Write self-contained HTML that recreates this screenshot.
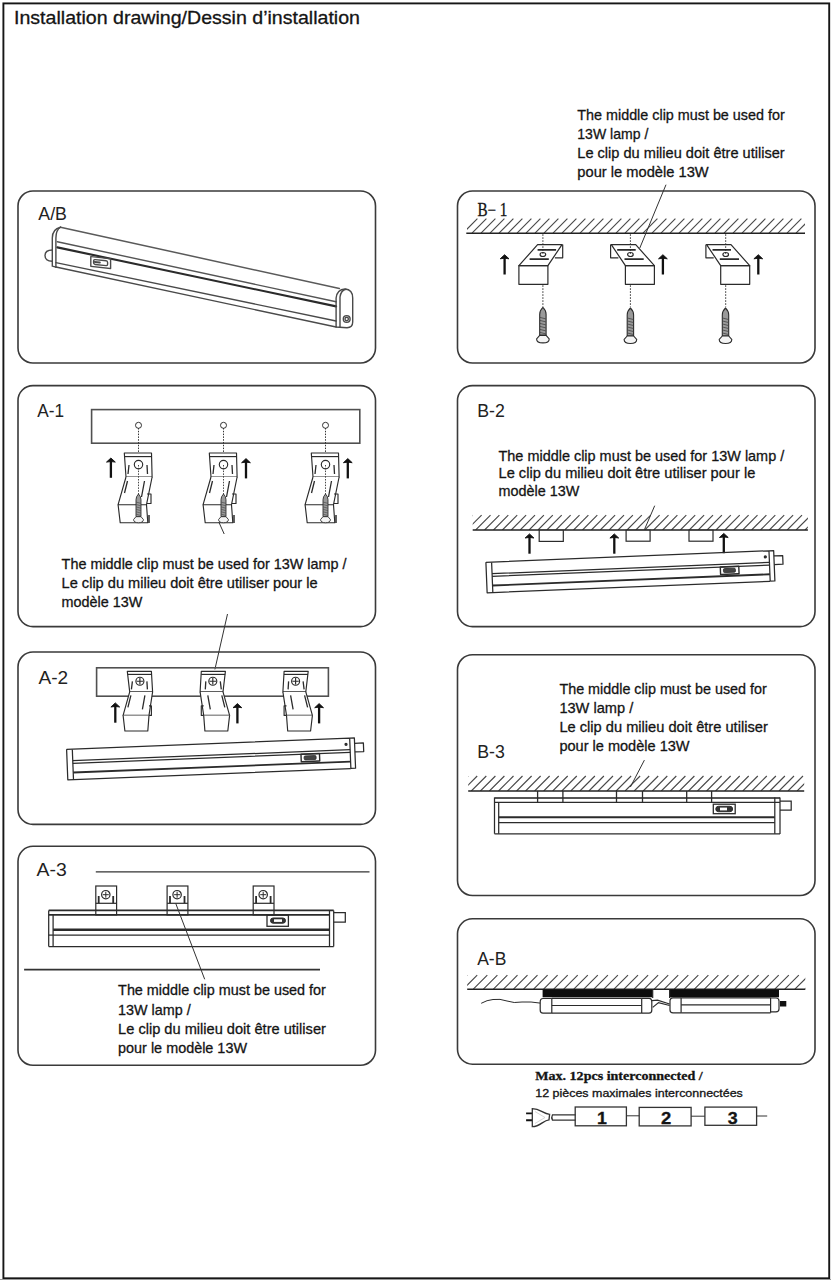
<!DOCTYPE html>
<html><head><meta charset="utf-8">
<style>
html,body{margin:0;padding:0;background:#fff;overflow:hidden;width:831px;height:1280px;}
svg{display:block;}
text{font-family:"Liberation Sans",sans-serif;fill:#141414;stroke:#141414;stroke-width:0.3;}
.n{font-size:15px;}
.pn{fill:none;stroke:#3a3a3a;stroke-width:1.6;}
.ln{fill:none;stroke:#2a2a2a;stroke-width:1.2;}
.lbl{font-size:18.5px;fill:#222;stroke-width:0;}
</style></head><body>
<svg width="831" height="1280" viewBox="0 0 831 1280">

<defs>
<g id="screw">
<path d="M0,0 Q3.2,3 3.2,7 L3.2,28 L-3.2,28 L-3.2,7 Q-3.2,3 0,0 Z" fill="#9a9a9a" stroke="#2b2b2b" stroke-width="1.1"/>
<path d="M-3,10 L3,11.5 M-3,13 L3,14.5 M-3,16 L3,17.5 M-3,19 L3,20.5 M-3,22 L3,23.5 M-3,25 L3,26.5" stroke="#444" stroke-width="0.8"/>
<path d="M-3.2,28 L-6.3,31.5 Q-6.3,35.5 0,35.5 Q6.3,35.5 6.3,31.5 L3.2,28 Z" fill="#f4f4f4" stroke="#2b2b2b" stroke-width="1.1"/>
</g>
<g id="arrowup">
<path d="M0,3 L0,20" stroke="#111" stroke-width="2.3" fill="none"/>
<path d="M-4.4,4.3 L0,0.2 L4.4,4.3 Q0,3.2 -4.4,4.3 Z" fill="#111" stroke="#111" stroke-width="0.9" stroke-linejoin="round"/>
</g>
<g id="clipb1" fill="none" stroke="#2b2b2b" stroke-width="1.2" stroke-linejoin="round">
<path d="M-5,32.4 L24,32.4 L24,51 L-5,51 Z" fill="#fff"/>
<path d="M-19.1,11.3 L5.3,11.3 L24,32.4 L-5,32.4 Z" fill="#fff"/>
<path d="M-19.8,11.3 L-19.8,24.5 L-12,24.5"/>
<path d="M-13.2,16.6 L5.3,16.6 M-5.9,25.8 L13.3,25.8" stroke-width="1.6"/>
<ellipse cx="0" cy="21.2" rx="2.8" ry="2"/>
<path d="M0,1 L0,21 M0,52 L0,73.5" stroke-dasharray="1.5 1.5" stroke-width="1"/>
</g>
<clipPath id="hatchclip1"><rect x="467" y="215" width="338" height="20"/></clipPath>

<g id="clipa1" fill="none" stroke="#2b2b2b" stroke-width="1.15" stroke-linejoin="round">
<path d="M-14.2,0 L13,0 L13.6,24 L-12.5,24 Z" fill="#fff"/>
<path d="M-13.9,3.6 L13.2,3.6"/>
<circle cx="0" cy="11.6" r="4.2"/>
<path d="M-12.5,24 L-20.4,51.7 L8,51.7 L13.6,24" fill="#fff"/>
<path d="M-20.4,51.7 L-18.3,69.7 L9.3,69.7 L8,51.7"/>
<path d="M8.5,41 L12.5,41 L12.5,50.5 L8.5,50.5"/>
<path d="M-9.5,12 L-10.5,21 M8.5,12 L9,21 M-11,28 L-14,40 M6,28 L3,44" stroke-width="1.3"/>
<path d="M10.5,62 L10.5,70" stroke-width="1.5"/>
</g>
<g id="a1set">
<circle cx="0" cy="-27.7" r="3" fill="none" stroke="#333" stroke-width="1"/>
<path d="M0,-25 L0,41" stroke="#333" stroke-width="1" stroke-dasharray="1.5 1.3" fill="none"/>
<use href="#clipa1"/>
<path d="M0,12 L0,41" stroke="#333" stroke-width="0.9" stroke-dasharray="1.5 1.3" fill="none"/>
<use href="#screw" transform="translate(0,41) scale(0.78,0.81)"/>
</g>

<g id="clipa2" fill="none" stroke="#2b2b2b" stroke-width="1.15" stroke-linejoin="round">
<path d="M-12.6,0 L11.5,0 L12.7,20.5 L-10.2,20.5 Z" fill="#fff"/>
<path d="M-12.4,3 L11.6,3"/>
<circle cx="0" cy="9.8" r="4"/>
<path d="M-3.2,9.8 L3.2,9.8 M0,6.6 L0,13"/>
<path d="M-10.2,20.5 L-16.8,44 L9.1,44 L12.7,20.5" fill="#fff"/>
<path d="M-16.8,44 L-15,59.6 L7.9,59.6 L9.1,44" fill="#fff"/>
<path d="M9.1,34.5 L11.5,34.5 L11.5,44 L9.1,44"/>
<path d="M-7.5,10 L-8.5,18 M7,10 L7.5,18 M-9,24 L-12,36 M5,24 L2.5,38" stroke-width="1.3"/>
</g>
<g id="lampA" fill="none" stroke="#2b2b2b" stroke-width="1.25" stroke-linejoin="round">
<path d="M0,0 L283.3,0 L288,0 L288,30.3 L283.3,30.3 M283.3,0 L283.3,30.3"/>
<path d="M0,0 L0,30.5 L283.3,30.5"/>
<path d="M5.7,0.5 L5.7,30.3" />
<path d="M5.7,11.6 L283.3,11.6 M5.7,14.3 L283.3,14.3"/>
<path d="M5.7,23.5 L283.3,23.5" stroke-width="1.9"/>
<path d="M288,5.4 L296.8,5.4 L296.8,14 L288,14"/>
<circle cx="279.4" cy="6" r="1" fill="#333"/>
<rect x="234" y="14.2" width="18.5" height="7.5" stroke-width="1.4"/>
<rect x="237" y="16" width="12" height="4" rx="1.2" fill="#444" stroke-width="0.8"/>
</g>

<g id="clipa3" fill="#fff" stroke="#2b2b2b" stroke-width="1.2">
<rect x="-10" y="0" width="20.8" height="28.9"/>
<path d="M-10,17.3 L10.8,17.3" fill="none"/>
<circle cx="0" cy="8.7" r="4.2" fill="none"/>
<path d="M-3,8.7 L3,8.7 M0,5.7 L0,11.7" fill="none" stroke-width="1"/>
<path d="M-7.1,10 L-7.1,17.3 M7.4,10 L7.4,17.3" stroke-width="1.8" fill="none"/>
</g>
</defs>

<!-- outer border -->
<rect x="3.4" y="3.4" width="825.8" height="1274.9" fill="none" stroke="#161616" stroke-width="1.9"/>
<rect x="0" y="1279" width="831" height="1" fill="#999"/>
<text x="14" y="24" font-size="18.5" textLength="346" lengthAdjust="spacingAndGlyphs">Installation drawing/Dessin d’installation</text>

<!-- panels -->
<rect class="pn" x="18" y="191" width="357.5" height="172" rx="15"/>
<rect class="pn" x="457.5" y="191" width="357.5" height="172" rx="15"/>
<rect class="pn" x="18" y="385.6" width="357.5" height="241" rx="15"/>
<rect class="pn" x="457.5" y="385.6" width="357.5" height="241" rx="15"/>
<rect class="pn" x="18" y="652" width="357.5" height="172.4" rx="15"/>
<rect class="pn" x="457.5" y="654.7" width="357.5" height="240.8" rx="15"/>
<rect class="pn" x="18" y="846.3" width="357.5" height="219" rx="15"/>
<rect class="pn" x="457.5" y="918.8" width="357.5" height="145.4" rx="15"/>


<!-- A/B lamp -->
<g fill="none" stroke="#4a4a4a" stroke-width="1.4" stroke-linecap="round" stroke-linejoin="round">
<path d="M60.5,227.2 L339.4,288.5" stroke="#5a5a5a" stroke-width="1.5"/>
<path d="M57.3,241.7 L336.1,301.8" stroke="#555"/>
<path d="M57.3,247.4 L336.1,306.4" stroke-width="2.1" stroke="#2a2a2a"/>
<path d="M55.9,262.6 L336.1,321"/>
<path d="M55.9,267 L336.1,327"/>
<path d="M60.5,227.2 Q52.3,229 52.3,238 L52.3,266.2 L55.9,267.2"/>
<path d="M60.5,227.2 Q56,230 55.9,238 L55.9,267"/>
<path d="M52.3,250 Q45,250 45,255.5 Q45,261.2 52.3,261.2"/>
<path d="M336.1,327 L336.1,298 Q337,289.5 345,289 Q352.7,289.5 352.7,298 L352.7,322 Q352.7,327.5 347,327.7 L336.1,327"/>
<path d="M340,327 L340,297 Q341,290 346,289.2"/>
<circle cx="346.7" cy="319" r="3.4"/>
<circle cx="346.7" cy="319" r="1.7"/>
<g transform="translate(90.8,256.6) skewY(6)">
<rect x="0" y="0" width="19.8" height="9.8" stroke-width="1.4"/>
<rect x="2.8" y="2.6" width="14" height="4.8" rx="1.5"/>
<path d="M4,4.9 L9,4.9" stroke-width="2"/>
</g>
</g>


<!-- B-1 -->
<g clip-path="url(#hatchclip1)" stroke="#4a4a4a" stroke-width="1.15"><path d="M463.0,233.1 L477.4,218.7 M472.0,233.1 L486.4,218.7 M481.0,233.1 L495.4,218.7 M490.0,233.1 L504.4,218.7 M499.0,233.1 L513.4,218.7 M508.0,233.1 L522.4,218.7 M517.0,233.1 L531.4,218.7 M526.0,233.1 L540.4,218.7 M535.0,233.1 L549.4,218.7 M544.0,233.1 L558.4,218.7 M553.0,233.1 L567.4,218.7 M562.0,233.1 L576.4,218.7 M571.0,233.1 L585.4,218.7 M580.0,233.1 L594.4,218.7 M589.0,233.1 L603.4,218.7 M598.0,233.1 L612.4,218.7 M607.0,233.1 L621.4,218.7 M616.0,233.1 L630.4,218.7 M625.0,233.1 L639.4,218.7 M634.0,233.1 L648.4,218.7 M643.0,233.1 L657.4,218.7 M652.0,233.1 L666.4,218.7 M661.0,233.1 L675.4,218.7 M670.0,233.1 L684.4,218.7 M679.0,233.1 L693.4,218.7 M688.0,233.1 L702.4,218.7 M697.0,233.1 L711.4,218.7 M706.0,233.1 L720.4,218.7 M715.0,233.1 L729.4,218.7 M724.0,233.1 L738.4,218.7 M733.0,233.1 L747.4,218.7 M742.0,233.1 L756.4,218.7 M751.0,233.1 L765.4,218.7 M760.0,233.1 L774.4,218.7 M769.0,233.1 L783.4,218.7 M778.0,233.1 L792.4,218.7 M787.0,233.1 L801.4,218.7 M796.0,233.1 L810.4,218.7 M805.0,233.1 L819.4,218.7 "/></g><path d="M466.3,233.3 L805,233.3" stroke="#222" stroke-width="1.5"/>
<use href="#clipb1" transform="translate(542.9,233.3) scale(-1,1)"/>
<use href="#clipb1" transform="translate(630.4,233.3)"/>
<use href="#clipb1" transform="translate(725.7,233.3)"/>
<use href="#screw" transform="translate(542.9,307.4)"/>
<use href="#screw" transform="translate(630.4,308)"/>
<use href="#screw" transform="translate(725.5,308)"/>
<use href="#arrowup" transform="translate(504.6,254.5)"/>
<use href="#arrowup" transform="translate(662.9,254.5)"/>
<use href="#arrowup" transform="translate(758.3,254.5)"/>
<path d="M666,184.7 L639.8,248" stroke="#333" stroke-width="1" fill="none"/>


<!-- A-1 -->
<rect x="91.6" y="409.6" width="268.2" height="33.6" fill="none" stroke="#505050" stroke-width="1.6"/>
<use href="#a1set" transform="translate(138.5,453)"/>
<use href="#a1set" transform="translate(223.5,453)"/>
<use href="#a1set" transform="translate(325.5,453)"/>
<use href="#arrowup" transform="translate(110.9,457.8)"/>
<use href="#arrowup" transform="translate(246,458.4)"/>
<use href="#arrowup" transform="translate(347.8,458.4)"/>
<path d="M218.8,522 L224.2,534" stroke="#333" stroke-width="1" fill="none"/>


<!-- A-2 -->
<path d="M227.5,614 L214.9,669.4" stroke="#333" stroke-width="1" fill="none"/>
<rect x="96.6" y="667.8" width="231.8" height="28.4" fill="none" stroke="#505050" stroke-width="1.6"/>
<use href="#clipa2" transform="translate(139.9,671.4)"/>
<use href="#clipa2" transform="translate(212.8,671.4) scale(-1,1)"/>
<use href="#clipa2" transform="translate(295.6,671.4) scale(-1,1)"/>
<use href="#arrowup" transform="translate(115.3,702.7)"/>
<use href="#arrowup" transform="translate(237.4,703.4)"/>
<use href="#arrowup" transform="translate(319.1,703.4)"/>
<use href="#lampA" transform="translate(66.6,749.3) rotate(-2.26)"/>


<!-- B-2 -->
<clipPath id="hc2"><rect x="472.7" y="513.2" width="335.2" height="16.8"/></clipPath><g clip-path="url(#hc2)" stroke="#4a4a4a" stroke-width="1.15" fill="none"><path d="M457.9,530.0 L472.7,515.2 M466.8,530.0 L481.6,515.2 M475.7,530.0 L490.5,515.2 M484.6,530.0 L499.4,515.2 M493.5,530.0 L508.3,515.2 M502.4,530.0 L517.2,515.2 M511.3,530.0 L526.1,515.2 M520.2,530.0 L535.0,515.2 M529.1,530.0 L543.9,515.2 M538.0,530.0 L552.8,515.2 M546.9,530.0 L561.7,515.2 M555.8,530.0 L570.6,515.2 M564.7,530.0 L579.5,515.2 M573.6,530.0 L588.4,515.2 M582.5,530.0 L597.3,515.2 M591.4,530.0 L606.2,515.2 M600.3,530.0 L615.1,515.2 M609.2,530.0 L624.0,515.2 M618.1,530.0 L632.9,515.2 M627.0,530.0 L641.8,515.2 M635.9,530.0 L650.7,515.2 M644.8,530.0 L659.6,515.2 M653.7,530.0 L668.5,515.2 M662.6,530.0 L677.4,515.2 M671.5,530.0 L686.3,515.2 M680.4,530.0 L695.2,515.2 M689.3,530.0 L704.1,515.2 M698.2,530.0 L713.0,515.2 M707.1,530.0 L721.9,515.2 M716.0,530.0 L730.8,515.2 M724.9,530.0 L739.7,515.2 M733.8,530.0 L748.6,515.2 M742.7,530.0 L757.5,515.2 M751.6,530.0 L766.4,515.2 M760.5,530.0 L775.3,515.2 M769.4,530.0 L784.2,515.2 M778.3,530.0 L793.1,515.2 M787.2,530.0 L802.0,515.2 M796.1,530.0 L810.9,515.2 M805.0,530.0 L819.8,515.2 "/></g><path d="M472.7,530 L807.9,530" stroke="#222" stroke-width="1.5"/>
<g fill="#fff" stroke="#2b2b2b" stroke-width="1.2">
<rect x="539.2" y="530.2" width="24.1" height="11.2"/>
<rect x="626.1" y="530.2" width="24" height="11"/>
<rect x="689" y="530.2" width="24" height="11"/>
</g>
<path d="M654.7,505.7 L644.4,529.7" stroke="#333" stroke-width="1" fill="none"/>
<use href="#arrowup" transform="translate(529.5,533.7)"/>
<use href="#arrowup" transform="translate(614.3,533.7)"/>
<use href="#arrowup" transform="translate(723.8,533.2)"/>
<use href="#lampA" transform="translate(485.9,562.3) rotate(-2.33)"/>


<!-- B-3 -->
<clipPath id="hc3"><rect x="468.2" y="774" width="336.00000000000006" height="17"/></clipPath><g clip-path="url(#hc3)" stroke="#4a4a4a" stroke-width="1.15" fill="none"><path d="M453.2,791.0 L468.2,776.0 M462.2,791.0 L477.2,776.0 M471.3,791.0 L486.3,776.0 M480.4,791.0 L495.4,776.0 M489.4,791.0 L504.4,776.0 M498.5,791.0 L513.5,776.0 M507.5,791.0 L522.5,776.0 M516.6,791.0 L531.6,776.0 M525.6,791.0 L540.6,776.0 M534.6,791.0 L549.6,776.0 M543.7,791.0 L558.7,776.0 M552.7,791.0 L567.7,776.0 M561.8,791.0 L576.8,776.0 M570.8,791.0 L585.8,776.0 M579.9,791.0 L594.9,776.0 M588.9,791.0 L603.9,776.0 M598.0,791.0 L613.0,776.0 M607.0,791.0 L622.0,776.0 M616.1,791.0 L631.1,776.0 M625.1,791.0 L640.1,776.0 M634.2,791.0 L649.2,776.0 M643.2,791.0 L658.2,776.0 M652.3,791.0 L667.3,776.0 M661.3,791.0 L676.3,776.0 M670.4,791.0 L685.4,776.0 M679.4,791.0 L694.4,776.0 M688.5,791.0 L703.5,776.0 M697.5,791.0 L712.5,776.0 M706.6,791.0 L721.6,776.0 M715.6,791.0 L730.6,776.0 M724.7,791.0 L739.7,776.0 M733.7,791.0 L748.7,776.0 M742.8,791.0 L757.8,776.0 M751.8,791.0 L766.8,776.0 M760.9,791.0 L775.9,776.0 M769.9,791.0 L784.9,776.0 M779.0,791.0 L794.0,776.0 M788.0,791.0 L803.0,776.0 M797.1,791.0 L812.1,776.0 "/></g><path d="M468.2,791 L804.2,791" stroke="#222" stroke-width="1.5"/>
<g fill="none" stroke="#2b2b2b" stroke-width="1.25">
<path d="M494.5,798 L780,798" stroke-width="2.2" stroke="#555"/>
<path d="M494.5,802.3 L780,802.3"/>
<path d="M498.7,817.3 L774.8,817.3" stroke-width="2"/>
<path d="M498.7,822.7 L774.8,822.7"/>
<path d="M494.5,833.8 L780,833.8"/>
<path d="M494.5,797.5 L494.5,833.8 M498.7,802 L498.7,833.8 M774.8,797.5 L774.8,833.8 M780,797.5 L780,834"/>
<path d="M780,801 L791.2,801 L791.2,810.1 L780,810.1"/>
<rect x="713.3" y="804.2" width="21.9" height="9.5" stroke-width="1.3"/>
<rect x="715.8" y="806.3" width="16.8" height="5.4" rx="2.7" fill="#333" stroke-width="1"/>
<rect x="720" y="807.6" width="7" height="2.8" fill="#fff" stroke="none"/>
<path d="M537.6,791 L537.6,802.3 M562.9,791 L562.9,802.3 M616.5,791 L616.5,802.3 M642.5,791 L642.5,802.3 M686.7,791 L686.7,802.3 M711.6,791 L711.6,802.3" stroke-width="1.3"/>
</g>
<path d="M644.4,760.1 L630.4,787" stroke="#333" stroke-width="1" fill="none"/>


<!-- A-3 -->
<path d="M95.8,871.8 L369.5,871.8" stroke="#333" stroke-width="1.3"/>
<path d="M24.1,969.6 L320,969.6" stroke="#333" stroke-width="1.6"/>
<use href="#clipa3" transform="translate(105.8,886)"/>
<use href="#clipa3" transform="translate(177.1,886)"/>
<use href="#clipa3" transform="translate(263.2,886)"/>
<g fill="none" stroke="#2b2b2b" stroke-width="1.25">
<path d="M48.7,910.4 L333.7,910.4" stroke-width="1.9"/>
<path d="M48.7,914.9 L329.5,914.9" stroke-width="1.6"/>
<path d="M53.1,929.7 L329.5,929.7" stroke-width="2.4"/>
<path d="M53.1,935.1 L329.5,935.1"/>
<path d="M48.7,946.5 L333.7,946.5"/>
<path d="M48.7,910.4 L48.7,946.5 M53.1,914.9 L53.1,946.5 M329.5,910.4 L329.5,946.5 M333.7,910.4 L333.7,946.5"/>
<path d="M48.7,935.1 L53.1,935.1"/>
<path d="M333.7,912.6 L345.3,912.6 L345.3,922.1 L333.7,922.1"/>
<rect x="267" y="915.2" width="21.4" height="11.1" stroke-width="1.3"/>
<rect x="270.5" y="918" width="15" height="5.2" rx="2.6" fill="#333" stroke-width="1"/>
<rect x="274" y="919.3" width="8" height="2.6" fill="#fff" stroke="none"/>
</g>
<path d="M175.7,903.3 L204.7,979.3" stroke="#333" stroke-width="1" fill="none"/>


<!-- A-B -->
<clipPath id="hc4"><rect x="467.2" y="973.2" width="338.09999999999997" height="16"/></clipPath><g clip-path="url(#hc4)" stroke="#4a4a4a" stroke-width="1.15" fill="none"><path d="M453.2,989.2 L467.2,975.2 M463.2,989.2 L477.2,975.2 M473.3,989.2 L487.3,975.2 M483.4,989.2 L497.4,975.2 M493.4,989.2 L507.4,975.2 M503.5,989.2 L517.5,975.2 M513.5,989.2 L527.5,975.2 M523.5,989.2 L537.5,975.2 M533.6,989.2 L547.6,975.2 M543.6,989.2 L557.6,975.2 M553.7,989.2 L567.7,975.2 M563.7,989.2 L577.7,975.2 M573.8,989.2 L587.8,975.2 M583.8,989.2 L597.8,975.2 M593.9,989.2 L607.9,975.2 M603.9,989.2 L617.9,975.2 M614.0,989.2 L628.0,975.2 M624.0,989.2 L638.0,975.2 M634.1,989.2 L648.1,975.2 M644.1,989.2 L658.1,975.2 M654.2,989.2 L668.2,975.2 M664.2,989.2 L678.2,975.2 M674.3,989.2 L688.3,975.2 M684.3,989.2 L698.3,975.2 M694.4,989.2 L708.4,975.2 M704.4,989.2 L718.4,975.2 M714.5,989.2 L728.5,975.2 M724.5,989.2 L738.5,975.2 M734.6,989.2 L748.6,975.2 M744.6,989.2 L758.6,975.2 M754.7,989.2 L768.7,975.2 M764.7,989.2 L778.7,975.2 M774.8,989.2 L788.8,975.2 M784.8,989.2 L798.8,975.2 M794.9,989.2 L808.9,975.2 M804.9,989.2 L818.9,975.2 "/></g><path d="M467.2,989.2 L805.3,989.2" stroke="#222" stroke-width="1.5"/>
<rect x="542.6" y="989.6" width="110.1" height="7.7" fill="#0d0d0d"/>
<rect x="669.6" y="989.6" width="109.4" height="7.7" fill="#0d0d0d"/>
<g fill="none" stroke="#2b2b2b" stroke-width="1.2">
<path d="M652.7,989.6 L652.7,998 M669.6,989.6 L669.6,998"/>
<path d="M551.8,998.3 L641.7,998.3 M551.8,1005.5 L641.7,1005.5 M551.8,1013.2 L641.7,1013.2"/>
<path d="M551.8,998.3 L551.8,1013.2 M641.7,998.3 L641.7,1013.2"/>
<path d="M551.8,998.5 L543,998.5 Q540.2,998.5 540.2,1002 L540.2,1010 Q540.2,1013.2 543,1013.2 L551.8,1013.2"/>
<path d="M641.7,998.3 L649,998.3 Q651.8,998.3 651.8,1002 L651.8,1010 Q651.8,1013.2 649,1013.2 L641.7,1013.2"/>
<path d="M681.1,997.8 L770.6,997.8 M681.1,1004.8 L770.6,1004.8 M681.1,1012.8 L770.6,1012.8" />
<path d="M681.1,997.8 L681.1,1012.8 M770.6,997.8 L770.6,1012.8"/>
<path d="M681.1,997.8 L673,997.8 Q670,997.8 670,1001 L670,1010 Q670,1012.8 673,1012.8 L681.1,1012.8"/>
<path d="M770.6,998 L776,998 Q779,998 779,1001 L779,1009 Q779,1011.8 776,1011.8 L770.6,1011.8"/>
<path d="M651.8,1000.7 L657.5,1000.2 L669.6,1004 M652.7,1007.4 L658.5,1002.6 L669.6,1005.5"/>
<path d="M481.2,1003.3 Q487,1000 493,999.5 Q500,998.5 507,1001 Q514,1003.5 522,1002 Q531,1001.5 540.2,1003.1" stroke-width="1"/>
</g>
<rect x="780" y="1001" width="6.3" height="5.5" fill="#111"/>

<!-- chain -->
<g fill="none" stroke="#333" stroke-width="1.3">
<path d="M526.1,1113.4 L532.3,1113.4 M526.1,1120.2 L532.3,1120.2" stroke-width="1.9" stroke="#111"/>
<path d="M532.3,1108.7 C540.5,1108.7 543,1113.9 549.6,1114.3 L549,1119.8 C543,1120.3 540.5,1126.7 532.3,1126.7 Z"/>
<path d="M535,1111.5 L545,1117.5 L535,1123.5" stroke-width="0.8" stroke="#ccc"/>
<path d="M575.6,1114.8 L552.5,1114.8 Q551,1117.5 552.5,1120.2 L575.6,1120.2"/>
<rect x="575.2" y="1107" width="51.2" height="18.8"/>
<rect x="639.2" y="1107.4" width="51.9" height="18.5"/>
<rect x="704.9" y="1107.1" width="51.7" height="18.2"/>
<path d="M626.4,1115.8 L639.2,1115.8 M691.1,1116.2 L704.9,1116.2 M756.6,1116 L767.2,1116" stroke-width="1"/>
</g>
<g style="font-family:'Liberation Sans',sans-serif;font-weight:bold;stroke-width:0.35" font-size="16.5" text-anchor="middle">
<text x="602" y="1124" transform="translate(602,0) scale(1.08,1) translate(-602,0)">1</text>
<text x="666.2" y="1123.6" transform="translate(666.2,0) scale(1.12,1) translate(-666.2,0)">2</text>
<text x="732.8" y="1123.6" transform="translate(732.8,0) scale(1.08,1) translate(-732.8,0)">3</text>
</g>

<!-- labels -->
<text class="lbl" x="38.3" y="219.5" textLength="28.6" lengthAdjust="spacingAndGlyphs">A/B</text>
<text x="477.4" y="216" font-family="Liberation Serif" font-size="18" textLength="30" lengthAdjust="spacingAndGlyphs" style="font-family:'Liberation Serif',serif">B− 1</text>
<text class="lbl" x="37.2" y="416.5" textLength="26.8" lengthAdjust="spacingAndGlyphs">A-1</text>
<text class="lbl" x="477.2" y="416.7" textLength="27.6" lengthAdjust="spacingAndGlyphs">B-2</text>
<text class="lbl" x="38.5" y="684" textLength="29.6" lengthAdjust="spacingAndGlyphs">A-2</text>
<text class="lbl" x="477.2" y="757.5" textLength="27.6" lengthAdjust="spacingAndGlyphs">B-3</text>
<text class="lbl" x="36.6" y="876.2" textLength="30.2" lengthAdjust="spacingAndGlyphs">A-3</text>
<text class="lbl" x="477.2" y="965" textLength="29.2" lengthAdjust="spacingAndGlyphs">A-B</text>

<!-- notes -->
<g class="n">
<text x="577.3" y="119.5" textLength="207.4" lengthAdjust="spacingAndGlyphs">The middle clip must be used for</text>
<text x="577.3" y="139.2" textLength="71" lengthAdjust="spacingAndGlyphs">13W lamp /</text>
<text x="577.3" y="158" textLength="207.4" lengthAdjust="spacingAndGlyphs">Le clip du milieu doit être utiliser</text>
<text x="577.3" y="176.5" textLength="131.4" lengthAdjust="spacingAndGlyphs">pour le modèle 13W</text>

<text x="61.6" y="568.9" textLength="285" lengthAdjust="spacingAndGlyphs">The middle clip must be used for 13W lamp /</text>
<text x="61.6" y="588" textLength="256" lengthAdjust="spacingAndGlyphs">Le clip du milieu doit être utiliser pour le</text>
<text x="61.6" y="606.6" textLength="80.8" lengthAdjust="spacingAndGlyphs">modèle 13W</text>

<text x="498.5" y="460.8" textLength="285.7" lengthAdjust="spacingAndGlyphs">The middle clip must be used for 13W lamp /</text>
<text x="498.5" y="478.1" textLength="256.8" lengthAdjust="spacingAndGlyphs">Le clip du milieu doit être utiliser pour le</text>
<text x="498.5" y="496.2" textLength="80.8" lengthAdjust="spacingAndGlyphs">modèle 13W</text>

<text x="559.4" y="694.4" textLength="207.4" lengthAdjust="spacingAndGlyphs">The middle clip must be used for</text>
<text x="559.4" y="712.9" textLength="73.8" lengthAdjust="spacingAndGlyphs">13W lamp /</text>
<text x="559.4" y="731.6" textLength="208.4" lengthAdjust="spacingAndGlyphs">Le clip du milieu doit être utiliser</text>
<text x="559.4" y="750.7" textLength="130.2" lengthAdjust="spacingAndGlyphs">pour le modèle 13W</text>

<text x="118.1" y="995.3" textLength="207.8" lengthAdjust="spacingAndGlyphs">The middle clip must be used for</text>
<text x="118.1" y="1014.7" textLength="72.6" lengthAdjust="spacingAndGlyphs">13W lamp /</text>
<text x="118.1" y="1033.8" textLength="207.8" lengthAdjust="spacingAndGlyphs">Le clip du milieu doit être utiliser</text>
<text x="118.1" y="1052.6" textLength="128.9" lengthAdjust="spacingAndGlyphs">pour le modèle 13W</text>
</g>

<!-- A-B bottom -->
<text x="535.3" y="1080.3" style="font-family:'Liberation Serif',serif;font-weight:bold" font-size="12.5" textLength="167.4" lengthAdjust="spacingAndGlyphs">Max. 12pcs  interconnected /</text>
<text x="535.3" y="1096.6" font-size="10.5" textLength="207.5" lengthAdjust="spacingAndGlyphs">12 pièces maximales interconnectées</text>

</svg>
</body></html>
